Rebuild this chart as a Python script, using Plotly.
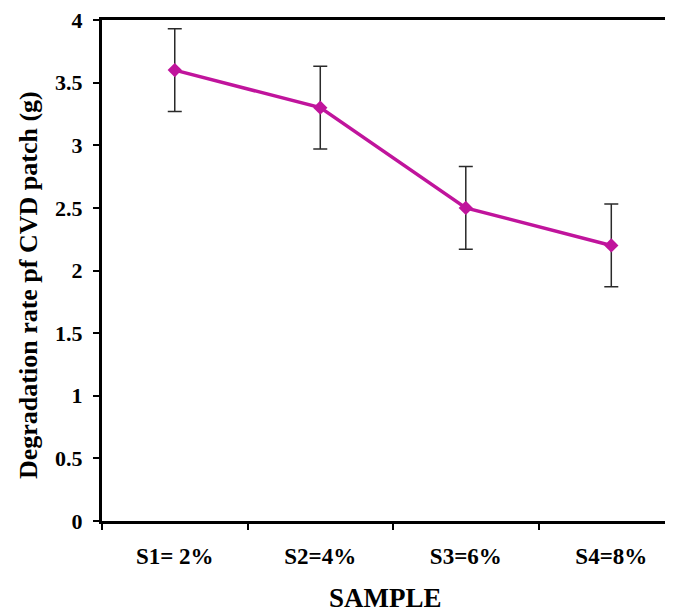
import plotly.graph_objects as go

categories = ["S1= 2%", "S2=4%", "S3=6%", "S4=8%"]
degradation = [3.6, 3.3, 2.5, 2.2]
error = [0.33, 0.33, 0.33, 0.33]
y_tick_vals = [0, 0.5, 1, 1.5, 2, 2.5, 3, 3.5, 4]
y_tick_text = ["0", "0.5", "1", "1.5", "2", "2.5", "3", "3.5", "4"]

x_pos = list(range(len(categories)))
boundaries = [i - 0.5 for i in range(len(categories) + 1)]

FONT = "Liberation Serif, Times New Roman, serif"
MAG = "#c0149c"

fig = go.Figure()
fig.add_trace(go.Scatter(
    x=x_pos, y=degradation,
    mode="lines+markers",
    line=dict(color=MAG, width=3.5),
    marker=dict(symbol="diamond", size=11, color=MAG),
    error_y=dict(type="data", array=error, visible=True,
                 color="#2a2a2a", thickness=1.5, width=7),
    showlegend=False,
))

fig.update_layout(
    width=665, height=605,
    margin=dict(l=94, r=0, t=10, b=92),
    paper_bgcolor="white", plot_bgcolor="white",
    font=dict(family=FONT, color="black"),
    xaxis=dict(
        range=[-0.5, 3.424],
        tickvals=x_pos, ticktext=categories,
        ticks="", showgrid=False, zeroline=False,
        showline=True, linecolor="black", linewidth=3, mirror=True,
        tickfont=dict(family=FONT, size=23, color="black", weight="bold"),
        ticklabelstandoff=12,
        minor=dict(tickvals=boundaries, ticks="outside", ticklen=6,
                   tickwidth=1.5, tickcolor="black", showgrid=False),
    ),
    yaxis=dict(
        range=[0, 4],
        tickvals=y_tick_vals, ticktext=y_tick_text,
        ticks="outside", ticklen=6, tickwidth=2, tickcolor="black",
        showgrid=False, zeroline=False,
        showline=True, linecolor="black", linewidth=3,
        tickfont=dict(family=FONT, size=22, color="black", weight="bold"),
        ticklabelstandoff=6,
        ticklabeloverflow="allow",
    ),
    annotations=[
        dict(text="<b>Degradation rate pf CVD patch (g)</b>",
             xref="paper", yref="paper", x=-0.1296, y=0.471,
             textangle=-90, showarrow=False,
             font=dict(family=FONT, size=26, color="black"),
             xanchor="center", yanchor="middle"),
        dict(text="<b>SAMPLE</b>",
             xref="paper", yref="paper", x=0.497, y=-0.153,
             showarrow=False,
             font=dict(family=FONT, size=27, color="black"),
             xanchor="center", yanchor="middle"),
    ],
)

fig.write_html("out.html")
